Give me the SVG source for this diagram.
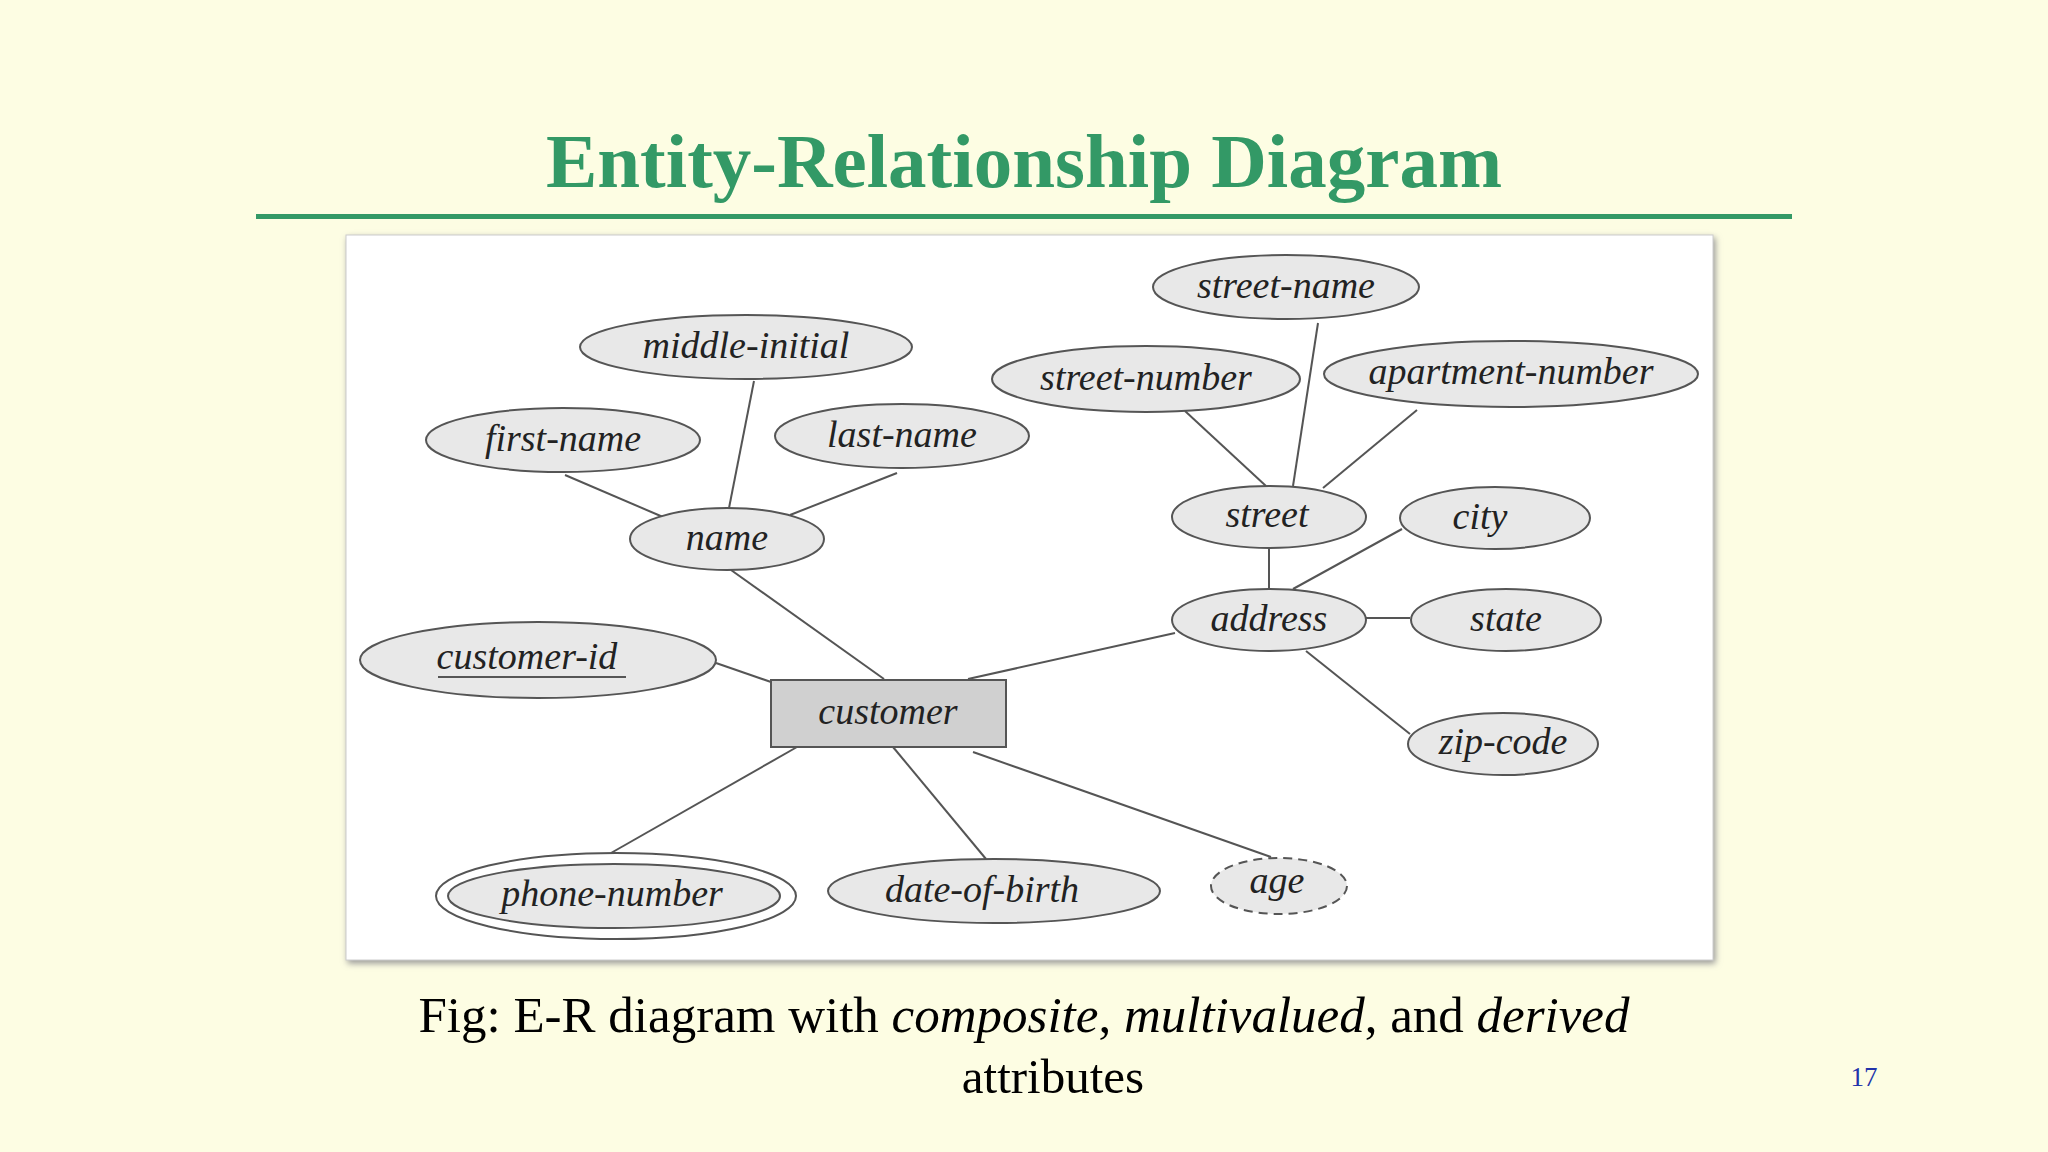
<svg xmlns="http://www.w3.org/2000/svg" width="2048" height="1152" viewBox="0 0 2048 1152">
<style>
.e{fill:#e8e8e8;stroke:#555;stroke-width:2}
.t{font-family:"Liberation Serif",serif;font-style:italic;font-size:38px;fill:#222;text-anchor:middle}
.c line{stroke:#555;stroke-width:2}
</style>
<defs><filter id="sh"><feDropShadow dx="2" dy="3" stdDeviation="3" flood-color="#999"/></filter></defs>
<rect width="2048" height="1152" fill="#fdfde3"/>
<text x="1024" y="187" font-family="Liberation Serif,serif" font-weight="bold" font-size="77" fill="#339966" text-anchor="middle">Entity-Relationship Diagram</text>
<rect x="256" y="214" width="1536" height="5" fill="#339966"/>
<rect x="346" y="235" width="1367" height="725" fill="#fff" stroke="#ccc" filter="url(#sh)"/>
<g class="c">
<line x1="565" y1="475" x2="663" y2="517"/>
<line x1="754" y1="381" x2="729" y2="508"/>
<line x1="897" y1="473" x2="790" y2="515"/>
<line x1="731" y1="570" x2="884" y2="679"/>
<line x1="716" y1="663" x2="771" y2="682"/>
<line x1="968" y1="679" x2="1175" y2="633"/>
<line x1="1185" y1="411" x2="1266" y2="486"/>
<line x1="1318" y1="323" x2="1293" y2="486"/>
<line x1="1417" y1="410" x2="1323" y2="488"/>
<line x1="1269" y1="549" x2="1269" y2="589"/>
<line x1="1402" y1="529" x2="1293" y2="589"/>
<line x1="1366" y1="618" x2="1410" y2="618"/>
<line x1="1306" y1="651" x2="1410" y2="734"/>
<line x1="797" y1="747" x2="611" y2="853"/>
<line x1="893" y1="747" x2="986" y2="859"/>
<line x1="973" y1="752" x2="1271" y2="857"/>
</g>
<g id="middle-initial"><ellipse class="e" cx="746" cy="347" rx="166" ry="32"/><text class="t" x="746" y="358">middle-initial</text></g>
<g id="first-name"><ellipse class="e" cx="563" cy="440" rx="137" ry="32"/><text class="t" x="563" y="451">first-name</text></g>
<g id="last-name"><ellipse class="e" cx="902" cy="436" rx="127" ry="32"/><text class="t" x="902" y="447">last-name</text></g>
<g id="name"><ellipse class="e" cx="727" cy="539" rx="97" ry="31"/><text class="t" x="727" y="550">name</text></g>
<g id="customer-id"><ellipse class="e" cx="538" cy="660" rx="178" ry="38"/><text class="t" x="527" y="669">customer-id</text><line x1="438" y1="677" x2="626" y2="677" stroke="#555" stroke-width="2"/></g>
<g id="customer"><rect x="771" y="680" width="235" height="67" fill="#d0d0d0" stroke="#555" stroke-width="2"/><text class="t" x="888" y="724">customer</text></g>
<g id="phone-number"><ellipse cx="616" cy="896" rx="180" ry="43" fill="#fff" stroke="#555" stroke-width="2"/><ellipse class="e" cx="614" cy="896" rx="166" ry="32"/><text class="t" x="612" y="906">phone-number</text></g>
<g id="date-of-birth"><ellipse class="e" cx="994" cy="891" rx="166" ry="32"/><text class="t" x="982" y="902">date-of-birth</text></g>
<g id="age"><ellipse class="e" cx="1279" cy="886" rx="68" ry="28" stroke-dasharray="9 6"/><text class="t" x="1277" y="893">age</text></g>
<g id="street-name"><ellipse class="e" cx="1286" cy="287" rx="133" ry="32"/><text class="t" x="1286" y="298">street-name</text></g>
<g id="street-number"><ellipse class="e" cx="1146" cy="379" rx="154" ry="33"/><text class="t" x="1146" y="390">street-number</text></g>
<g id="apartment-number"><ellipse class="e" cx="1511" cy="374" rx="187" ry="33"/><text class="t" x="1511" y="384">apartment-number</text></g>
<g id="street"><ellipse class="e" cx="1269" cy="517" rx="97" ry="31"/><text class="t" x="1267" y="527">street</text></g>
<g id="city"><ellipse class="e" cx="1495" cy="518" rx="95" ry="31"/><text class="t" x="1480" y="529">city</text></g>
<g id="address"><ellipse class="e" cx="1269" cy="620" rx="97" ry="31"/><text class="t" x="1269" y="631">address</text></g>
<g id="state"><ellipse class="e" cx="1506" cy="620" rx="95" ry="31"/><text class="t" x="1506" y="631">state</text></g>
<g id="zip-code"><ellipse class="e" cx="1503" cy="744" rx="95" ry="31"/><text class="t" x="1503" y="754">zip-code</text></g>
<text x="1024" y="1032" font-family="Liberation Serif,serif" font-size="51" fill="#000" text-anchor="middle">Fig: E-R diagram with <tspan font-style="italic">composite</tspan>, <tspan font-style="italic">multivalued</tspan>, and <tspan font-style="italic">derived</tspan></text>
<text x="1053" y="1093" font-family="Liberation Serif,serif" font-size="49" fill="#000" text-anchor="middle">attributes</text>
<text x="1864" y="1086" font-family="Liberation Serif,serif" font-size="27" fill="#2233aa" text-anchor="middle">17</text>
</svg>
